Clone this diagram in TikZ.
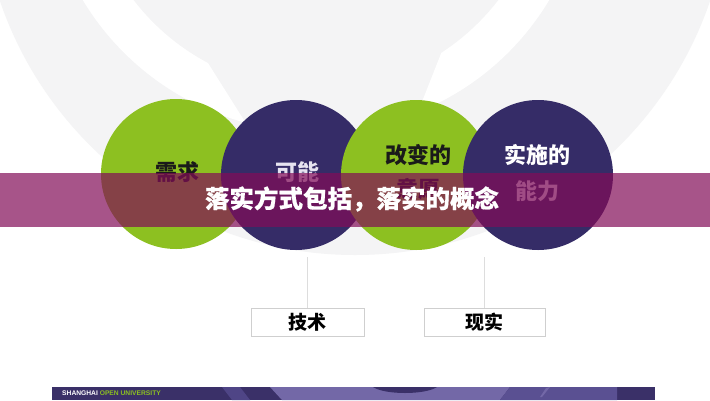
\documentclass[tikz,border=0pt]{standalone}
\usepackage{fontspec}
\usetikzlibrary{calc}
\setmainfont{Liberation Sans}
\newfontfamily\cjk{Noto Sans CJK SC}
\newfontfamily\cjkheavy{Noto Sans CJK SC}[BoldFeatures={FakeBold=0.5}]
\definecolor{bggrey}{HTML}{F4F4F5}
\definecolor{sgreen}{HTML}{8DC021}
\definecolor{spurple}{HTML}{352C67}
\definecolor{bandc}{RGB}{131,12,88}
\definecolor{darktext}{HTML}{1A1A1A}
\definecolor{lighttext}{HTML}{E6E3F0}
\definecolor{connc}{HTML}{DDDDDD}
\definecolor{boxc}{HTML}{CFCFCF}
\definecolor{fdark}{HTML}{3A3068}
\definecolor{fmid}{HTML}{4F4586}
\definecolor{fmed}{HTML}{5A5092}
\definecolor{flight}{HTML}{7368A7}
\tikzset{
  greencirc/.style={fill=sgreen},
  purplecirc/.style={fill=spurple},
  circtext/.style={font=\cjk\bfseries\fontsize{22}{26}\selectfont, inner sep=0pt, align=center},
  titletext/.style={font=\cjkheavy\bfseries\fontsize{24.5}{28}\selectfont, text=white, inner sep=0pt},
  boxst/.style={draw=boxc, line width=0.8pt, fill=white, minimum width=#1, minimum height=28pt, inner sep=0pt,
    font=\cjk\bfseries\fontsize{19}{22}\selectfont, text=black},
  conn/.style={draw=connc, line width=0.6pt}
}
\begin{document}
\begin{tikzpicture}[x=1pt,y=-1pt]
\useasboundingbox (0,0) rectangle (710,400);
\fill[white] (0,0) rectangle (710,400);
% background watermark
\begin{scope}
\clip (0,0) rectangle (710,400);
\fill[bggrey] (355,-120) circle[radius=375];
\fill[white] (316,-140) ++(118:230) arc[start angle=118, end angle=417, radius=230]
  -- ($(316,-140)+(428:272)$) arc[start angle=428, end angle=105, radius=272] -- cycle;
\end{scope}
% circles
\fill[greencirc] (176,174) circle[radius=75];
\fill[purplecirc] (296,175) circle[radius=75];
\fill[greencirc] (416,175) circle[radius=75];
\fill[purplecirc] (538,175) circle[radius=75];
\node[circtext, text=darktext] (c1) at (177,172) {需求};
\node[circtext, text=lighttext] (c2) at (297,172) {可能};
\node[circtext, text=darktext] (c3a) at (418,155) {改变的};
\node[circtext, text=darktext] (c3b) at (418,189) {意愿};
\node[circtext, text=white] (c4a) at (537,155) {实施的};
\node[circtext, text=lighttext] (c4b) at (537,191) {能力};
% band
\fill[bandc, opacity=0.7] (0,173) rectangle (710,227);
\node[titletext] (title) at (352,199) {落实方式包括，落实的概念};
% boxes and connectors
\node[boxst=113pt] (b1) at (307.5,322) {技术};
\node[boxst=121pt] (b2) at (484.5,322) {现实};
\coordinate (t1) at (307.5,257);
\coordinate (t2) at (484.5,257);
\draw[conn] (t1) -- (b1.north);
\draw[conn] (t2) -- (b2.north);
% footer
\fill[fdark] (52,387) rectangle (655,400);
\fill[fmid] (222,387) -- (240,387) -- (250,400) -- (232,400) -- cycle;
\fill[flight] (270,387) -- (510,387) -- (500,400) -- (282,400) -- cycle;
\fill[fdark] (373,387) .. controls (385,395) and (425,395) .. (437,387) -- cycle;
\fill[fmed] (510,387) -- (617,387) -- (617,400) -- (500,400) -- cycle;
\fill[flight] (546,388) -- (550,387) -- (542,397) -- (540,397) -- cycle;
\node[anchor=west, inner sep=0pt, font=\bfseries\fontsize{6.7}{8}\selectfont] (sou) at (62,393.5)
  {\textcolor{white}{SHANGHAI} \textcolor{sgreen}{OPEN UNIVERSITY}};
\end{tikzpicture}
\end{document}
